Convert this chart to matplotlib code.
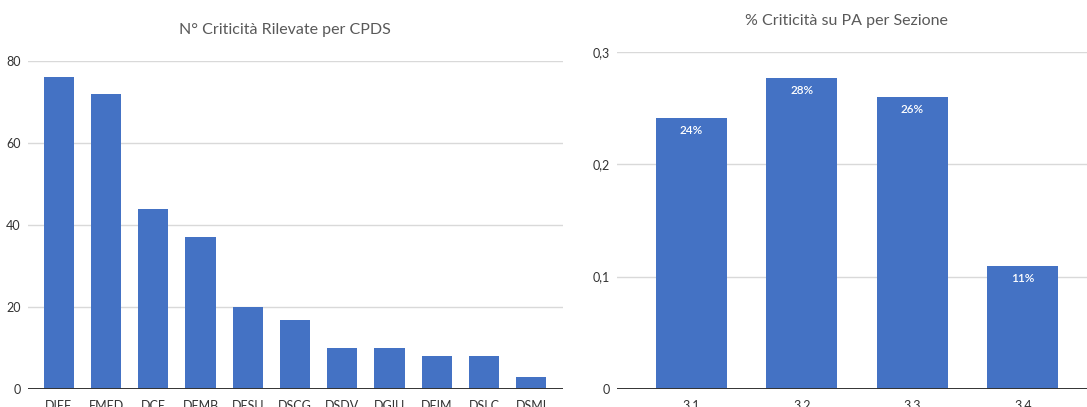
import matplotlib
matplotlib.use('Agg')
import matplotlib.pyplot as plt

# data
cpds = ['DIEF', 'EMED', 'DCE', 'DEMB', 'DESU', 'DSCG', 'DSDV', 'DGIU', 'DEIM', 'DSLC', 'DSMI']
criticita = [76, 72, 44, 37, 20, 17, 10, 10, 8, 8, 3]

sezioni = ['3.1', '3.2', '3.3', '3.4']
perc_pa = [0.241, 0.277, 0.26, 0.1095]
perc_labels = ['24%', '28%', '26%', '11%']

plt.rcParams['font.family'] = ['Lato', 'DejaVu Sans']

BLUE = '#4472C4'
W, H = 1087, 407
fig = plt.figure(figsize=(W / 100, H / 100), dpi=100)


def px_axes(x0, x1, ytop, ybot):
	return fig.add_axes([x0 / W, (H - ybot) / H, (x1 - x0) / W, (ybot - ytop) / H])


def style(ax):
	for s in ax.spines.values():
		s.set_visible(False)
	ax.tick_params(length=0, labelsize=9, colors='#333333', pad=5)
	ax.tick_params(axis='x', pad=8)
	ax.yaxis.grid(True, color='#d9d9d9', lw=1)
	ax.set_axisbelow(True)
	ax.axhline(0, color='#333333', lw=1.4, zorder=3)


ax1 = px_axes(27.5, 562.7, 61, 389.3)
ax1.bar(range(len(cpds)), criticita, width=0.642, color=BLUE, zorder=2)
ax1.set_xticks(range(len(cpds)), cpds)
ax1.set_ylim(0, 80)
ax1.set_yticks([0, 20, 40, 60, 80])
ax1.set_xlim(-0.663, 10.665)
style(ax1)

ax2 = px_axes(616.7, 1097.4, 51.7, 389)
bars = ax2.bar(range(len(sezioni)), perc_pa, width=0.642, color=BLUE, zorder=2)
ax2.bar_label(bars, labels=perc_labels, padding=-13, color='white', fontsize=8.5,
	fontweight='semibold')
ax2.set_xticks(range(len(sezioni)), sezioni)
ax2.set_ylim(0, 0.3)
ax2.set_yticks([0, 0.1, 0.2, 0.3], ['0', '0,1', '0,2', '0,3'])
ax2.set_xlim(-0.675, 3.675)
style(ax2)

fig.text(284.7 / W, (H - 30) / H, 'N° Criticità Rilevate per CPDS', ha='center', va='center',
	fontsize=11.5, color='#595959')
fig.text(846 / W, (H - 21.5) / H, '% Criticità su PA per Sezione', ha='center', va='center',
	fontsize=11.5, color='#595959')

fig.savefig('out.png', dpi=100)
